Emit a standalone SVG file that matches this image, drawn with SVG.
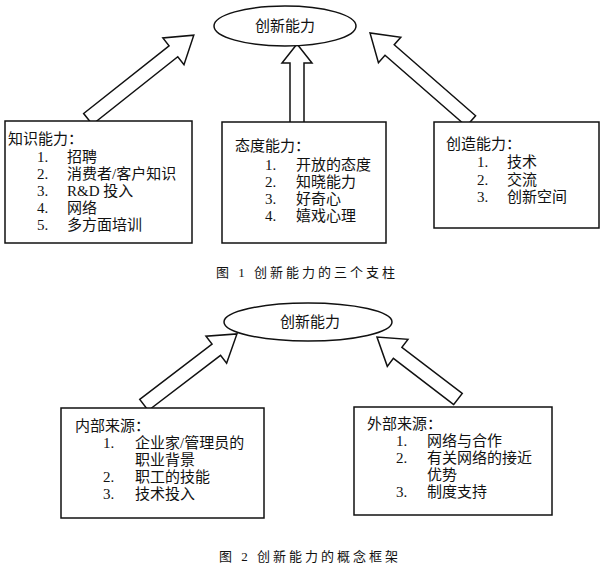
<svg xmlns="http://www.w3.org/2000/svg" width="600" height="568" viewBox="0 0 600 568">
<style>
text{font-family:"Liberation Serif","Noto Sans CJK SC",serif;font-size:15px;fill:#111}
.cap{font-size:13px;letter-spacing:3px}
.box,.ell,.arr{fill:#fff;stroke:#111;stroke-width:1.5}
</style>
<rect width="600" height="568" fill="#fff"/>
<g id="connectors">
<polygon class="arr" transform="translate(88,119) rotate(-38.4)" points="0,-7 109,-7 109,-17 135,0 109,17 109,7 0,7"/>
<polygon class="arr" transform="translate(297,123) rotate(-90)" points="0,-7 60,-7 60,-15 79,0 60,15 60,7 0,7"/>
<polygon class="arr" transform="translate(471,121) rotate(-138.9)" points="0,-7 108,-7 108,-17 134,0 108,17 108,7 0,7"/>
<polygon class="arr" transform="translate(144,405) rotate(-37.4)" points="0,-7 91,-7 91,-17 117,0 91,17 91,7 0,7"/>
<polygon class="arr" transform="translate(458,399) rotate(-142.6)" points="0,-7 76,-7 76,-17 102,0 76,17 76,7 0,7"/>
</g>
<g id="top-ellipse"><ellipse class="ell" cx="285" cy="26" rx="71" ry="20"/><text x="285" y="31" text-anchor="middle">创新能力</text></g>
<g id="knowledge"><rect class="box" x="5" y="121" width="187" height="122"/>
<text x="8" y="144">知识能力：</text>
<text x="37" y="162">1.</text><text x="67" y="162">招聘</text>
<text x="37" y="179">2.</text><text x="67" y="179">消费者/客户知识</text>
<text x="37" y="196">3.</text><text x="67" y="196">R&amp;D 投入</text>
<text x="37" y="213">4.</text><text x="67" y="213">网络</text>
<text x="37" y="230">5.</text><text x="67" y="230">多方面培训</text></g>
<g id="attitude"><rect class="box" x="222" y="122" width="164" height="121"/>
<text x="235" y="151">态度能力：</text>
<text x="265" y="170">1.</text><text x="296" y="170">开放的态度</text>
<text x="265" y="187">2.</text><text x="296" y="187">知晓能力</text>
<text x="265" y="204">3.</text><text x="296" y="204">好奇心</text>
<text x="265" y="221">4.</text><text x="296" y="221">嬉戏心理</text></g>
<g id="creation"><rect class="box" x="434" y="122" width="165" height="106"/>
<text x="446" y="149">创造能力：</text>
<text x="477" y="167">1.</text><text x="507" y="167">技术</text>
<text x="477" y="185">2.</text><text x="507" y="185">交流</text>
<text x="477" y="202">3.</text><text x="507" y="202">创新空间</text></g>
<text class="cap" x="216" y="277">图 1   创新能力的三个支柱</text>
<g id="bottom-ellipse"><ellipse class="ell" cx="308" cy="322" rx="84" ry="19"/><text x="310" y="327" text-anchor="middle">创新能力</text></g>
<g id="internal"><rect class="box" x="61" y="408" width="203" height="110"/>
<text x="75" y="431">内部来源：</text>
<text x="103" y="448">1.</text><text x="135" y="448">企业家/管理员的</text>
<text x="135" y="465">职业背景</text>
<text x="103" y="482">2.</text><text x="135" y="482">职工的技能</text>
<text x="103" y="499">3.</text><text x="135" y="499">技术投入</text></g>
<g id="external"><rect class="box" x="354" y="407" width="198" height="108"/>
<text x="367" y="429">外部来源：</text>
<text x="396" y="446">1.</text><text x="427" y="446">网络与合作</text>
<text x="396" y="463">2.</text><text x="427" y="463">有关网络的接近</text>
<text x="427" y="480">优势</text>
<text x="396" y="497">3.</text><text x="427" y="497">制度支持</text></g>
<text class="cap" x="219" y="561">图 2   创新能力的概念框架</text>
</svg>
